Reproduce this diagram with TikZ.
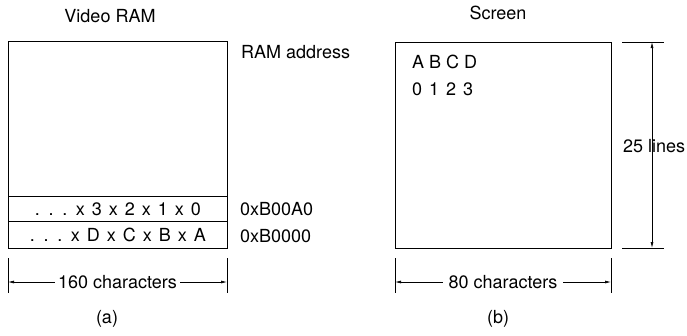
\documentclass[tikz,border=0pt]{standalone}
\usepackage{fontspec}
\setmainfont{TeX Gyre Heros}
\usetikzlibrary{arrows.meta, positioning}
\newcommand\rowgap{\spaceskip=7pt plus 1pt\relax}
\tikzset{
  membox/.style   = {draw=black, line width=0.9pt, inner sep=0pt},
  memlabel/.style = {font=\fontsize{18}{20}\selectfont, inner sep=0pt},
  rowlabel/.style = {memlabel, font=\fontsize{18}{20}\selectfont\rowgap},
  dimtick/.style  = {draw=black, line width=0.7pt},
  dimline/.style  = {draw=black, line width=0.7pt,
                     {Latex[length=6pt,width=3pt]}-{Latex[length=6pt,width=3pt]}},
  dimtext/.style  = {memlabel, fill=white, inner xsep=3pt, inner ysep=1pt},
}

\begin{document}
\begin{tikzpicture}[x=1pt, y=-1pt]
    \useasboundingbox (0,0) rectangle (687,335);
    % (a) video RAM
    \node[membox, minimum width=219pt, minimum height=207pt, anchor=north west]
      (vram) at (8,41) {};
    \node[membox, minimum width=219pt, minimum height=25pt, anchor=north west]
      (row1) at (8,196) {};
    \node[membox, minimum width=219pt, minimum height=27pt, anchor=north west]
      (row0) at (8,221) {};
    \node[rowlabel] at (row1.center) {. . . x 3 x 2 x 1 x 0};
    \node[rowlabel] at (row0.center) {. . . x D x C x B x A};
    \node[memlabel] (vtitle) at (110,16) {Video RAM};
    \node[memlabel, anchor=west] (addr) at (241,52) {RAM address};
    \node[memlabel, anchor=west] (a1) at (240,209) {0xB00A0};
    \node[memlabel, anchor=west] (a0) at (240,236) {0xB0000};
    \coordinate (vl) at (8,282);
    \coordinate (vr) at (227,282);
    \draw[dimtick] (8,258) -- (8,293);
    \draw[dimtick] (227,258) -- (227,293);
    \draw[dimline] (vl) -- node[dimtext] {160 characters} (vr);
    \node[memlabel] (capa) at (107,319) {(a)};
    % (b) screen
    \node[membox, minimum width=216pt, minimum height=206pt, anchor=north west]
      (scr) at (395,42) {};
    \node[memlabel, anchor=west] (r1) at (412,62) {A B C D};
    \node[rowlabel, anchor=west] (r2) at (412,89) {0 1 2 3};
    \node[memlabel] (stitle) at (498,13) {Screen};
    \coordinate (st) at (652,42);
    \coordinate (sb) at (652,248);
    \draw[dimtick] (622,42) -- (664,42);
    \draw[dimtick] (622,248) -- (664,248);
    \draw[dimline] (st) -- (sb);
    \node[memlabel, anchor=west] (lines) at (623,146) {25 lines};
    \coordinate (sl) at (395,282);
    \coordinate (sr) at (611,282);
    \draw[dimtick] (395,258) -- (395,293);
    \draw[dimtick] (611,258) -- (611,293);
    \draw[dimline] (sl) -- node[dimtext, inner xsep=6pt] {80 characters} (sr);
    \node[memlabel] (capb) at (498,319) {(b)};
  \end{tikzpicture}
\end{document}
